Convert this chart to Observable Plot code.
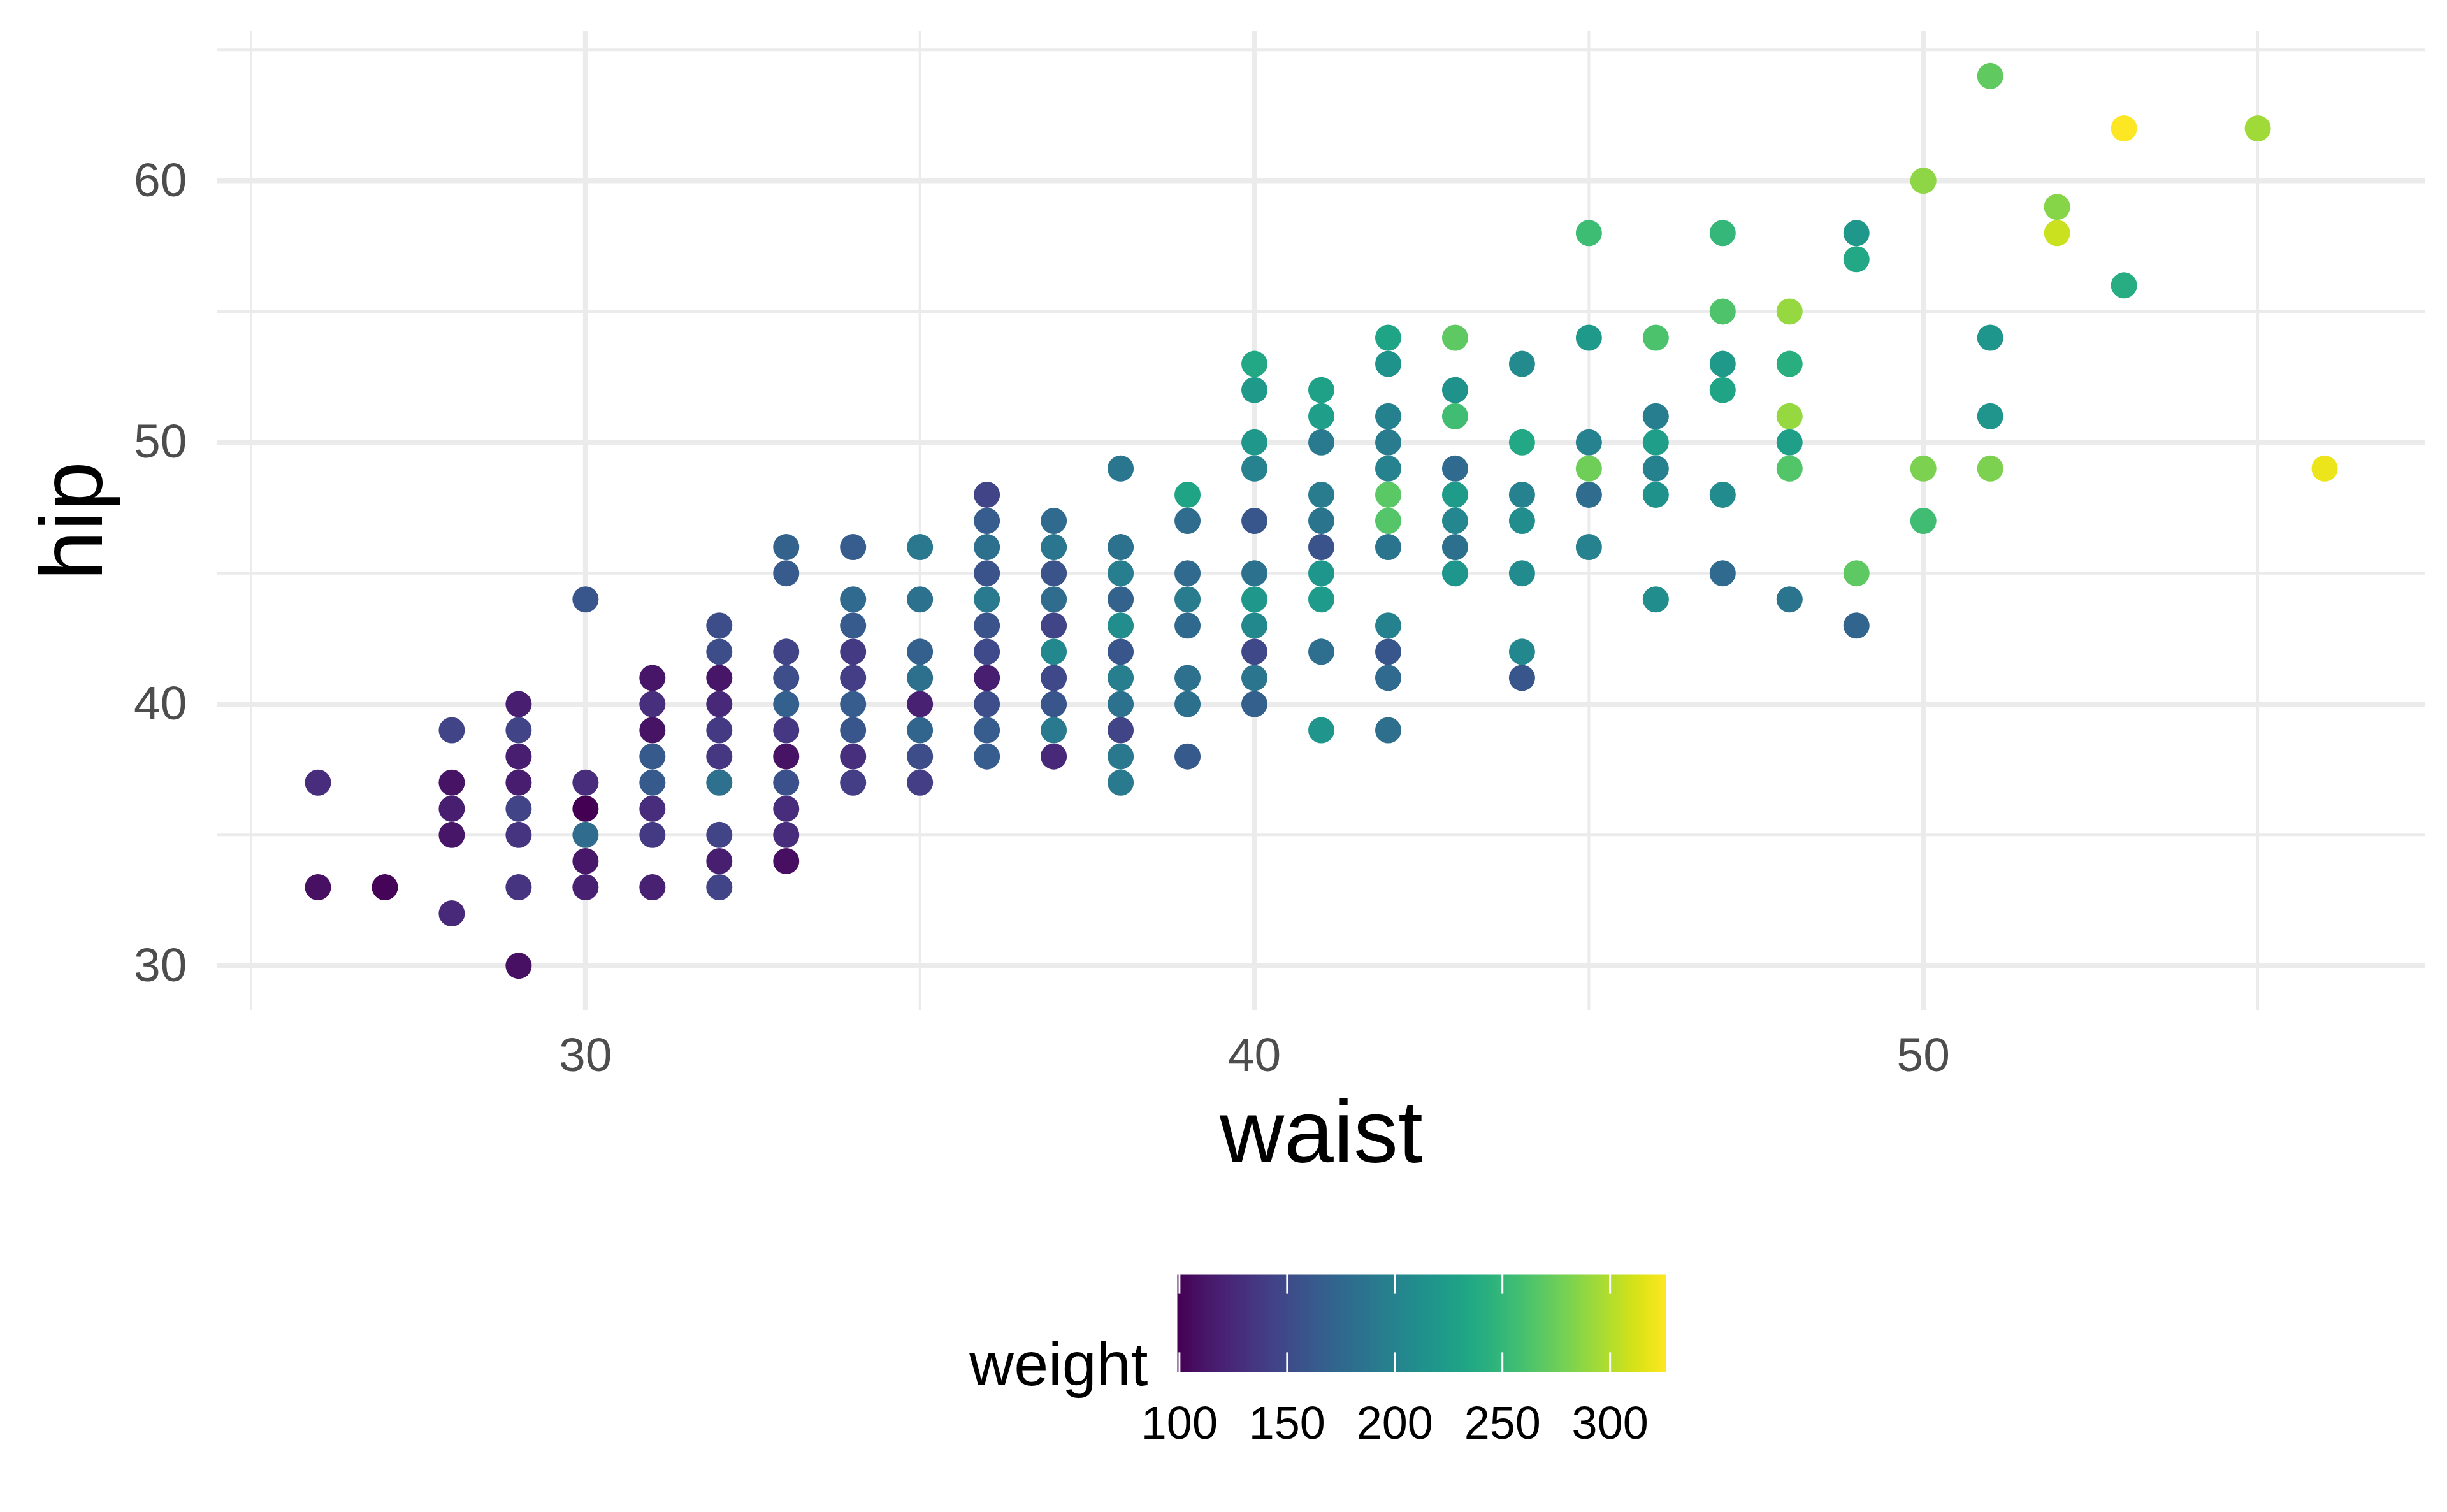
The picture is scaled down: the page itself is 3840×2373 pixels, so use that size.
<!DOCTYPE html>
<html>
<head>
<meta charset="utf-8">
<script src="https://cdn.jsdelivr.net/npm/d3@7"></script>
<script src="https://cdn.jsdelivr.net/npm/@observablehq/plot@0.6"></script>
<style>
  html, body { margin: 0; padding: 0; background: #ffffff; }
  svg { display: block; }
</style>
</head>
<body>
<div id="chart"></div>
<script>
// ---- data ----
const waist = [
  26, 26,
  27,
  28, 28, 28, 28, 28,
  29, 29, 29, 29, 29, 29, 29, 29,
  30, 30, 30, 30, 30, 30,
  31, 31, 31, 31, 31, 31, 31, 31,
  32, 32, 32, 32, 32, 32, 32, 32, 32, 32,
  33, 33, 33, 33, 33, 33, 33, 33, 33, 33, 33,
  34, 34, 34, 34, 34, 34, 34, 34, 34,
  35, 35, 35, 35, 35, 35, 35, 35,
  36, 36, 36, 36, 36, 36, 36, 36, 36, 36, 36,
  37, 37, 37, 37, 37, 37, 37, 37, 37, 37,
  38, 38, 38, 38, 38, 38, 38, 38, 38, 38, 38,
  39, 39, 39, 39, 39, 39, 39, 39,
  40, 40, 40, 40, 40, 40, 40, 40, 40, 40, 40,
  41, 41, 41, 41, 41, 41, 41, 41, 41, 41,
  42, 42, 42, 42, 42, 42, 42, 42, 42, 42, 42, 42,
  43, 43, 43, 43, 43, 43, 43, 43,
  44, 44, 44, 44, 44, 44, 44,
  45, 45, 45, 45, 45, 45,
  46, 46, 46, 46, 46, 46,
  47, 47, 47, 47, 47, 47,
  48, 48, 48, 48, 48, 48,
  49, 49, 49, 49,
  50, 50, 50,
  51, 51, 51, 51,
  52, 52,
  53, 53,
  55,
  56
];
const hip = [
  37, 33,
  33,
  39, 37, 36, 35, 32,
  40, 39, 38, 37, 36, 35, 33, 30,
  44, 37, 36, 35, 34, 33,
  41, 40, 39, 38, 37, 36, 35, 33,
  43, 42, 41, 40, 39, 38, 37, 35, 34, 33,
  46, 45, 42, 41, 40, 39, 38, 37, 36, 35, 34,
  46, 44, 43, 42, 41, 40, 39, 38, 37,
  46, 44, 42, 41, 40, 39, 38, 37,
  48, 47, 46, 45, 44, 43, 42, 41, 40, 39, 38,
  47, 46, 45, 44, 43, 42, 41, 40, 39, 38,
  49, 46, 45, 44, 43, 42, 41, 40, 39, 38, 37,
  48, 47, 45, 44, 43, 41, 40, 38,
  53, 52, 50, 49, 47, 45, 44, 43, 42, 41, 40,
  52, 51, 50, 48, 47, 46, 45, 44, 42, 39,
  54, 53, 51, 50, 49, 48, 47, 46, 43, 42, 41, 39,
  54, 52, 51, 49, 48, 47, 46, 45,
  53, 50, 48, 47, 45, 42, 41,
  58, 54, 50, 49, 48, 46,
  54, 51, 50, 49, 48, 44,
  58, 55, 53, 52, 48, 45,
  55, 53, 51, 50, 49, 44,
  58, 57, 45, 43,
  60, 49, 47,
  64, 54, 51, 49,
  59, 58,
  62, 56,
  62,
  49
];
const weight = [
  128, 108,
  101,
  145, 110, 118, 112, 125,
  118, 145, 118, 116, 145, 133, 133, 108,
  160, 128, 99, 178, 113, 120,
  112, 130, 110, 162, 162, 128, 138, 120,
  152, 152, 112, 125, 138, 135, 183, 145, 118, 145,
  170, 163, 145, 153, 168, 135, 110, 155, 128, 128, 107,
  165, 177, 163, 138, 140, 165, 160, 130, 140,
  190, 185, 168, 182, 120, 172, 152, 140,
  145, 165, 182, 157, 192, 157, 150, 118, 153, 165, 165,
  177, 188, 157, 178, 145, 205, 148, 160, 192, 125,
  188, 185, 195, 170, 210, 160, 195, 185, 145, 190, 192,
  232, 178, 177, 193, 176, 183, 182, 162,
  235, 222, 220, 200, 160, 185, 220, 205, 148, 187, 168,
  228, 225, 192, 193, 186, 157, 218, 223, 180, 217,
  232, 215, 198, 193, 200, 268, 265, 186, 198, 160, 177, 181,
  270, 215, 256, 177, 224, 203, 182, 218,
  207, 235, 200, 210, 208, 205, 160,
  255, 222, 200, 276, 178, 200,
  262, 195, 225, 198, 215, 210,
  250, 263, 222, 232, 208, 177,
  290, 242, 290, 226, 264, 186,
  220, 235, 270, 172,
  287, 281, 256,
  271, 218, 217, 281,
  285, 308,
  326, 240,
  294,
  319
];

const xMajor = [30, 40, 50];
const xMinor = [25, 35, 45, 55];
const yMajor = [30, 40, 50, 60];
const yMinor = [35, 45, 55, 65];
const legendTicks = [100, 150, 200, 250, 300];
const xLabel = "waist";
const yLabel = "hip";
const colorLabel = "weight";

// ---- build table ----
const data = waist.map((w, i) => ({waist: w, hip: hip[i], weight: weight[i]}));
const expand = (ext) => { const d = (ext[1] - ext[0]) * 0.05; return [ext[0] - d, ext[1] + d]; };
const xDomain = expand(d3.extent(waist));
const yDomain = expand(d3.extent(hip));
const wDomain = d3.extent(weight);
const font = "'Liberation Sans', Arial, Helvetica, sans-serif";
const grid = "#ebebeb";

const main = Plot.plot({
  width: 3840,
  height: 1900,
  marginLeft: 341,
  marginRight: 35,
  marginTop: 49,
  marginBottom: 315,
  style: {fontFamily: font, background: "#ffffff", overflow: "visible"},
  x: {domain: xDomain},
  y: {domain: yDomain},
  color: {type: "linear", scheme: "viridis", domain: wDomain},
  marks: [
    Plot.ruleX(xMinor, {stroke: grid, strokeWidth: 4}),
    Plot.ruleY(yMinor, {stroke: grid, strokeWidth: 4}),
    Plot.ruleX(xMajor, {stroke: grid, strokeWidth: 8}),
    Plot.ruleY(yMajor, {stroke: grid, strokeWidth: 8}),
    Plot.axisX({ticks: xMajor, tickSize: 0, tickPadding: 42, fontSize: 75, color: "#4d4d4d", label: null}),
    Plot.axisY({ticks: yMajor, tickSize: 0, tickPadding: 48, fontSize: 75, color: "#4d4d4d", label: null}),
    Plot.dot(data, {x: "waist", y: "hip", fill: "weight", r: 20.5}),
    Plot.text([xLabel], {frameAnchor: "bottom", textAnchor: "middle", lineAnchor: "bottom", dy: 238, fontSize: 140, fill: "#000000"}),
    Plot.text([yLabel], {frameAnchor: "left", textAnchor: "middle", lineAnchor: "middle", rotate: -90, dx: -226, fontSize: 140, fill: "#000000"})
  ]
});

const legend = Plot.plot({
  width: 3840,
  height: 473,
  marginLeft: 1847,
  marginRight: 1226,
  marginTop: 100,
  marginBottom: 220,
  style: {fontFamily: font, background: "#ffffff", overflow: "visible"},
  x: {domain: wDomain},
  y: {domain: [0, 1], axis: null},
  color: {type: "linear", scheme: "viridis", domain: wDomain},
  marks: [
    Plot.raster({x1: wDomain[0], x2: wDomain[1], y1: 0, y2: 1, fill: (x, y) => x, width: 512, height: 1}),
    Plot.ruleX(legendTicks, {y1: 0, y2: 0.2, stroke: "#ffffff", strokeWidth: 3}),
    Plot.ruleX(legendTicks, {y1: 0.8, y2: 1, stroke: "#ffffff", strokeWidth: 3}),
    Plot.axisX({ticks: legendTicks, tickSize: 0, tickPadding: 53, fontSize: 72, color: "#000000", label: null}),
    Plot.text([colorLabel], {frameAnchor: "bottom-left", textAnchor: "end", lineAnchor: "bottom", dx: -46, dy: 20, fontSize: 97, fill: "#000000"})
  ]
});

const root = document.getElementById("chart");
root.appendChild(main);
root.appendChild(legend);
</script>
</body>
</html>
